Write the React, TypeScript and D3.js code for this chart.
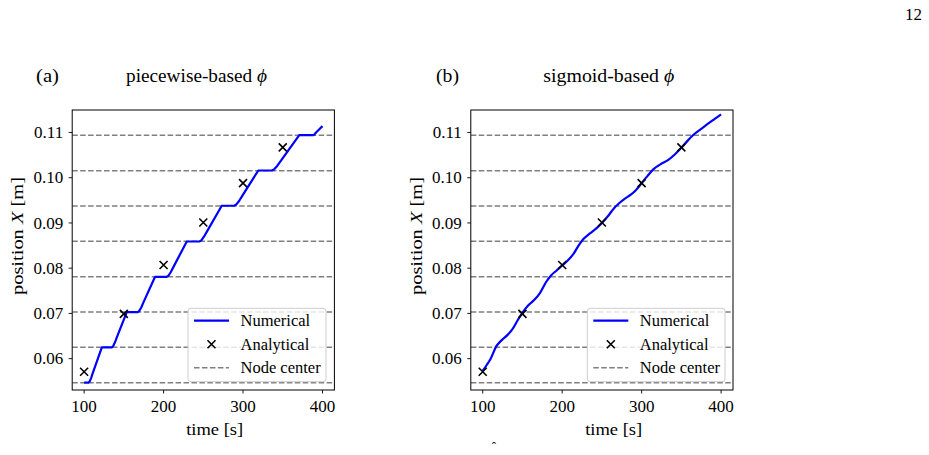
import React from 'react';
import * as d3 from 'd3';

// Axis ticks and grid reference levels
const timeTicks = [100, 200, 300, 400];
const positionTicks = [0.06, 0.07, 0.08, 0.09, 0.1, 0.11];
const nodeCenters = [0.0546875, 0.0625, 0.0703125, 0.078125, 0.0859375, 0.09375, 0.1015625, 0.109375];

// Analytical front position
const analyticalTime = [100, 150, 200, 250, 300, 350];
const analyticalPosition = [0.0571, 0.0699, 0.0807, 0.0901, 0.0988, 0.1067];

// Numerical front position, piecewise-based phi
const piecewiseTime = [
  100, 105.4, 106.8, 108.8, 111.3, 122.3,
  134.8, 136.3, 138.6, 141.4, 153.7,
  167.5, 169.2, 171.9, 175.1, 189.3,
  204, 206.0, 209.0, 212.8, 229.2,
  245, 247.3, 250.6, 254.9, 273.2,
  288.7, 291.1, 294.8, 299.4, 319.2,
  336.1, 338.9, 343.0, 348.2, 370.8,
  388.4, 390.0, 392.5, 396, 400,
];
const piecewisePosition = [
  0.0547, 0.0547, 0.0549, 0.0557, 0.057, 0.0625,
  0.0625, 0.0627, 0.0635, 0.0648, 0.0703,
  0.0703, 0.0705, 0.0713, 0.0726, 0.0781,
  0.0781, 0.0783, 0.0791, 0.0804, 0.0859,
  0.0859, 0.0861, 0.0869, 0.0882, 0.0938,
  0.0938, 0.094, 0.0948, 0.0961, 0.1016,
  0.1016, 0.1018, 0.1026, 0.1039, 0.1094,
  0.1094, 0.1096, 0.1101, 0.1107, 0.1114,
];

// Numerical front position, sigmoid-based phi
const sigmoidTime = [
  100, 105, 110, 117, 124, 131, 137, 145, 151, 158, 165, 172, 180, 186, 193, 200, 207, 214, 221,
  227, 235, 243, 250, 258, 265, 272, 279, 286, 293, 300, 307, 315, 324, 334, 342, 350, 358, 366,
  375, 384, 392, 400,
];
const sigmoidPosition = [
  0.0573, 0.0586, 0.06, 0.0627, 0.0641, 0.0652, 0.0664, 0.0688, 0.0704, 0.0719, 0.073, 0.0745,
  0.077, 0.0784, 0.0795, 0.0806, 0.0817, 0.0831, 0.0851, 0.0865, 0.0877, 0.0888, 0.09, 0.0916,
  0.0932, 0.0944, 0.0954, 0.0962, 0.0973, 0.0988, 0.1003, 0.1019, 0.103, 0.104, 0.1052, 0.1066,
  0.1082, 0.1096, 0.1108, 0.112, 0.113, 0.114,
];

const FONT = "'Liberation Serif', 'DejaVu Serif', serif";
const TOP = 110;
const BOTTOM = 390;

type PanelProps = {
  id: string;
  left: number;
  right: number;
  tag: string;
  tagX: number;
  title: string;
  titleX: number;
  titleLen: number;
  xLabelX: number;
  yLabelX: number;
  time: number[];
  position: number[];
  curve: d3.CurveFactory;
  legendLeft: number;
  legendRight: number;
};

function Cross({ cx, cy, r = 4 }: { cx: number; cy: number; r?: number }) {
  return (
    <path
      d={`M${cx - r},${cy - r}L${cx + r},${cy + r}M${cx - r},${cy + r}L${cx + r},${cy - r}`}
      stroke="#000"
      strokeWidth={1.6}
      fill="none"
    />
  );
}

function Panel(p: PanelProps) {
  const x = d3.scaleLinear().domain([85, 415]).range([p.left, p.right]);
  const y = d3.scaleLinear().domain([0.05307, 0.11497]).range([BOTTOM, TOP]);
  const pts: [number, number][] = p.time.map((t, i) => [t, p.position[i]]);
  const line = d3
    .line<[number, number]>()
    .x((d) => x(d[0]))
    .y((d) => y(d[1]))
    .curve(p.curve);

  const lgTop = 308.3;
  const lgBottom = 381.7;
  const rows = [320.7, 344.3, 367.7];
  const sampleX0 = p.legendLeft + 6;
  const sampleX1 = p.legendLeft + 41;
  const textX = p.legendLeft + 52.5;

  return (
    <g>
      <defs>
        <clipPath id={`clip-${p.id}`}>
          <rect x={p.left} y={TOP} width={p.right - p.left} height={BOTTOM - TOP} />
        </clipPath>
      </defs>

      <text x={p.tagX} y={82} fontSize={18} fontFamily={FONT} textLength={23} lengthAdjust="spacingAndGlyphs">
        {p.tag}
      </text>
      <text
        x={p.titleX}
        y={82}
        fontSize={18}
        fontFamily={FONT}
        textLength={p.titleLen}
        lengthAdjust="spacingAndGlyphs"
      >
        {p.title} <tspan fontStyle="italic">ϕ</tspan>
      </text>

      <g clipPath={`url(#clip-${p.id})`}>
        {nodeCenters.map((v) => (
          <line
            key={v}
            x1={p.left}
            x2={p.right}
            y1={y(v)}
            y2={y(v)}
            stroke="#808080"
            strokeWidth={1.5}
            strokeDasharray="5.55,2.4"
          />
        ))}
        <path d={line(pts) ?? ''} fill="none" stroke="#0000ff" strokeWidth={2.2} strokeLinejoin="round" />
        {analyticalTime.map((t, i) => (
          <Cross key={t} cx={x(t)} cy={y(analyticalPosition[i])} />
        ))}
      </g>

      <rect
        x={p.left}
        y={TOP}
        width={p.right - p.left}
        height={BOTTOM - TOP}
        fill="none"
        stroke="#000"
        strokeWidth={1}
      />

      {timeTicks.map((t) => (
        <g key={t}>
          <line x1={x(t)} x2={x(t)} y1={BOTTOM} y2={BOTTOM + 3.5} stroke="#000" strokeWidth={0.9} />
          <text x={x(t)} y={412} textAnchor="middle" fontSize={17} fontFamily={FONT}>
            {t}
          </text>
        </g>
      ))}
      {positionTicks.map((v) => (
        <g key={v}>
          <line x1={p.left - 3.5} x2={p.left} y1={y(v)} y2={y(v)} stroke="#000" strokeWidth={0.9} />
          <text x={p.left - 9} y={y(v)} dy="0.33em" textAnchor="end" fontSize={17} fontFamily={FONT}>
            {d3.format('.2f')(v)}
          </text>
        </g>
      ))}

      <text
        x={p.xLabelX}
        y={435}
        textAnchor="middle"
        fontSize={17.5}
        fontFamily={FONT}
        textLength={57}
        lengthAdjust="spacingAndGlyphs"
      >
        time [s]
      </text>
      <text
        transform={`translate(${p.yLabelX},236) rotate(-90)`}
        textAnchor="middle"
        fontSize={17.5}
        fontFamily={FONT}
        dy="0.33em"
        textLength={118}
        lengthAdjust="spacingAndGlyphs"
      >
        position <tspan fontStyle="italic">X</tspan> [m]
      </text>

      <g>
        <rect
          x={p.legendLeft}
          y={lgTop}
          width={p.legendRight - p.legendLeft}
          height={lgBottom - lgTop}
          rx={3}
          fill="#fff"
          fillOpacity={0.8}
          stroke="#cccccc"
          strokeWidth={1}
        />
        <line x1={sampleX0} x2={sampleX1} y1={rows[0]} y2={rows[0]} stroke="#0000ff" strokeWidth={2.2} />
        <Cross cx={(sampleX0 + sampleX1) / 2} cy={rows[1]} />
        <line
          x1={sampleX0}
          x2={sampleX1}
          y1={rows[2]}
          y2={rows[2]}
          stroke="#808080"
          strokeWidth={1.5}
          strokeDasharray="5.55,2.4"
        />
        {['Numerical', 'Analytical', 'Node center'].map((s, i) => (
          <text key={s} x={textX} y={rows[i]} dy="0.33em" fontSize={16.5} fontFamily={FONT}>
            {s}
          </text>
        ))}
      </g>
    </g>
  );
}

export default function App() {
  return (
    <div style={{ position: 'absolute', left: 0, top: 0 }}>
      <svg width={929} height={455} style={{ display: 'block', background: '#fff' }}>
        <text x={922} y={20} textAnchor="end" fontSize={17} fontFamily={FONT}>12</text>
        <Panel
          id="a"
          left={72.2}
          right={334.4}
          tag="(a)"
          tagX={36}
          title="piecewise-based"
          titleX={126}
          titleLen={141}
          xLabelX={214.7}
          yLabelX={17}
          time={piecewiseTime}
          position={piecewisePosition}
          curve={d3.curveLinear}
          legendLeft={188}
          legendRight={326}
        />
        <Panel
          id="b"
          left={470.8}
          right={733}
          tag="(b)"
          tagX={436}
          title="sigmoid-based"
          titleX={543.3}
          titleLen={131}
          xLabelX={613.7}
          yLabelX={416.7}
          time={sigmoidTime}
          position={sigmoidPosition}
          curve={d3.curveMonotoneX}
          legendLeft={587.3}
          legendRight={725}
        />
        <text x={494} y={451} textAnchor="middle" fontSize={13} fontFamily={FONT}>ˆ</text>
      </svg>
    </div>
  );
}
